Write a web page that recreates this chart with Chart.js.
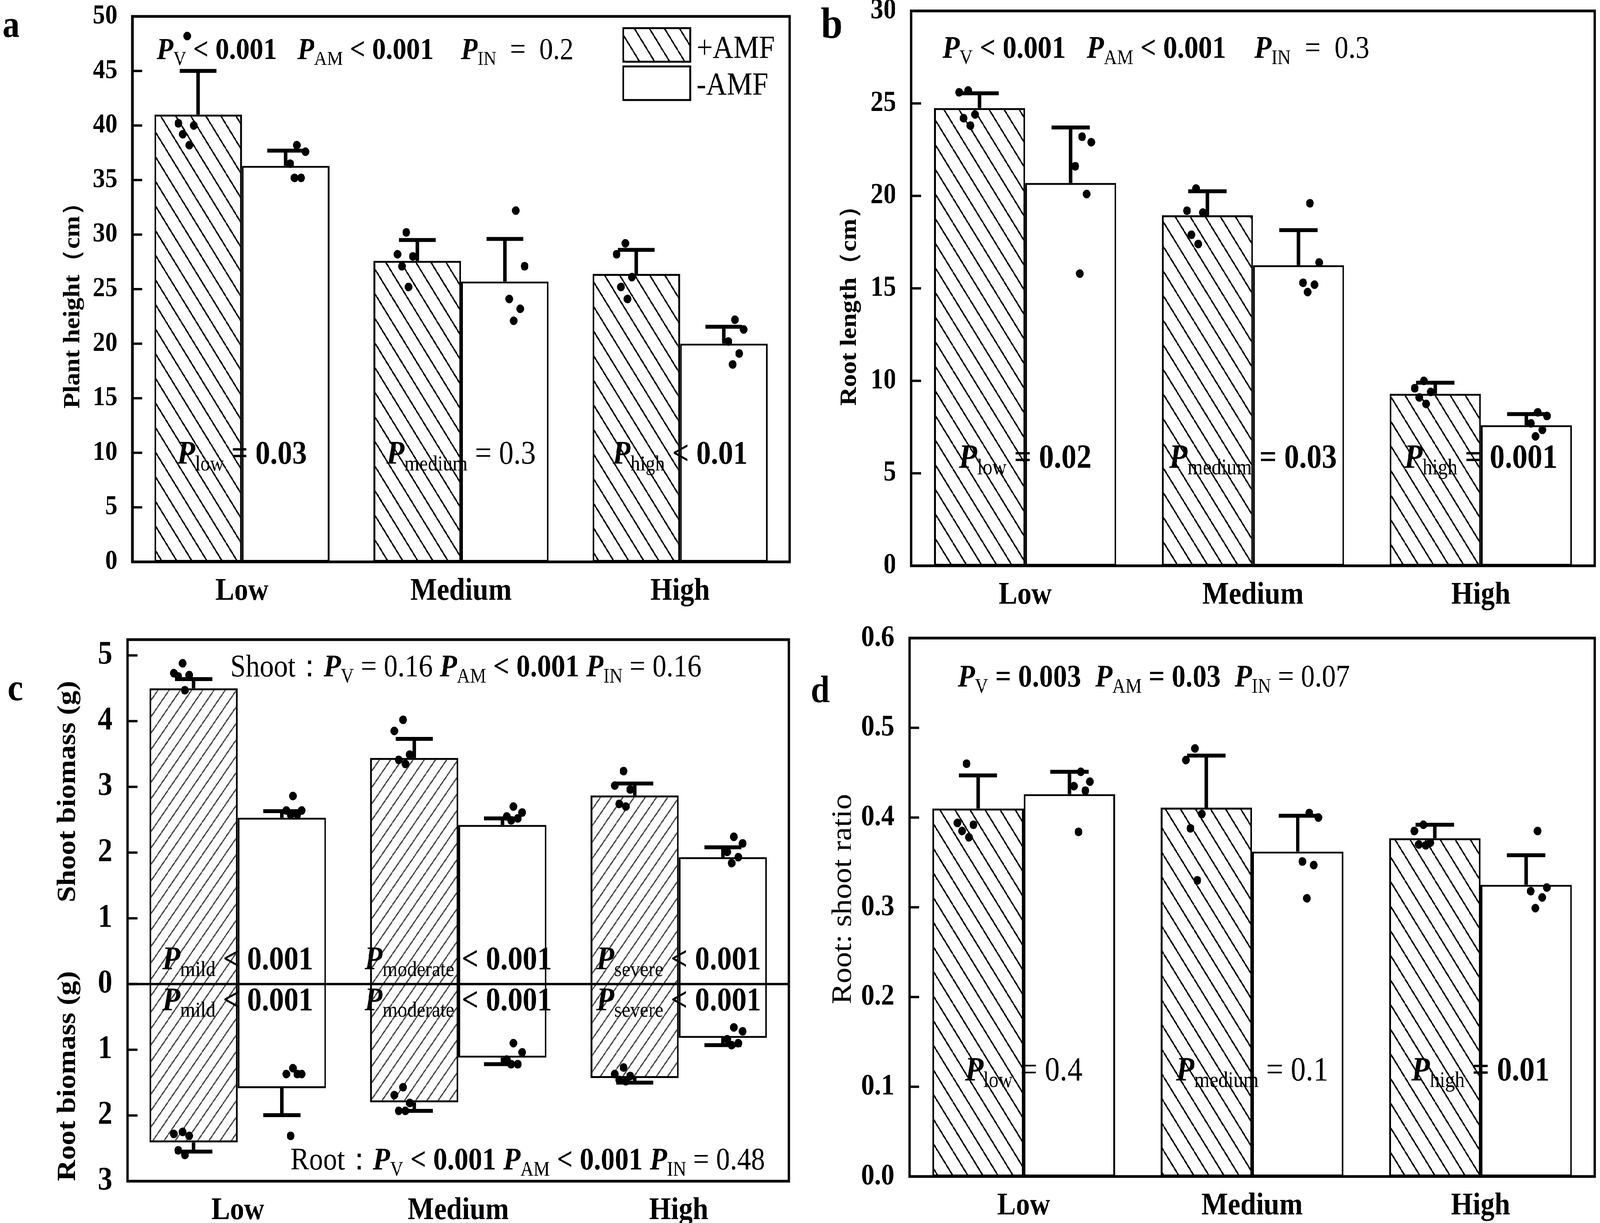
<!DOCTYPE html>
<html>
<head>
<meta charset="utf-8">
<title>AMF panels</title>
<script src="https://cdn.jsdelivr.net/npm/chart.js@4.4.1/dist/chart.umd.min.js"></script>
<style>
  html, body { margin: 0; padding: 0; background: #fff; overflow: hidden; }
  #wrap { position: relative; overflow: hidden; background: #fff; }
  #stage { position: absolute; left: 0; top: 0; width: 4567px; height: 3130px; transform-origin: 0 0; }
  canvas { position: absolute; }
</style>
</head>
<body>
<div id="wrap"><div id="stage">
<canvas id="a"></canvas>
<canvas id="b"></canvas>
<canvas id="c"></canvas>
<canvas id="d"></canvas>
</div></div>
<script>
const categories = ['Low', 'Medium', 'High'];

// (a) plant height, cm
const heightTicks = [0, 5, 10, 15, 20, 25, 30, 35, 40, 45, 50];
const heightAmf = [41.0, 27.6, 26.4];
const heightAmfSd = [4.0, 1.9, 2.2];
const heightNon = [36.3, 25.7, 20.0];
const heightNonSd = [1.4, 3.9, 1.55];
const heightAmfPts = [[48.2, 40.2, 40.0, 39.2, 38.2], [30.2, 28.2, 28.0, 27.1, 25.2], [29.2, 28.2, 26.1, 25.2, 24.1]];
const heightNonPts = [[38.2, 37.6, 36.5, 35.2, 35.2], [32.2, 27.1, 24.1, 23.2, 22.1], [22.2, 21.3, 20.2, 19.1, 18.1]];

// (b) root length, cm
const lengthTicks = [0, 5, 10, 15, 20, 25, 30];
const lengthAmf = [24.75, 18.95, 9.3];
const lengthAmfSd = [0.8, 1.3, 0.6];
const lengthNon = [20.7, 16.25, 7.6];
const lengthNonSd = [3.0, 1.9, 0.6];
const lengthAmfPts = [[25.7, 25.6, 24.4, 24.2, 23.8], [20.4, 19.2, 19.1, 17.9, 17.4], [10.0, 9.6, 9.4, 9.1, 8.75]];
const lengthNonPts = [[23.2, 22.9, 21.6, 20.1, 15.8], [19.6, 16.4, 15.3, 15.2, 14.8], [8.3, 8.1, 7.7, 7.35, 7.0]];

// (c) shoot (up) and root (down) biomass, g
const biomassTicks = [-3, -2, -1, 0, 1, 2, 3, 4, 5];
const shootAmf = [4.50, 3.44, 2.87];
const shootAmfSd = [0.14, 0.29, 0.18];
const shootNon = [2.53, 2.42, 1.93];
const shootNonSd = [0.10, 0.10, 0.15];
const rootAmf = [2.41, 1.80, 1.43];
const rootAmfSd = [0.14, 0.13, 0.07];
const rootNon = [1.585, 1.12, 0.82];
const rootNonSd = [0.41, 0.10, 0.11];
const shootAmfPts = [[4.88, 4.73, 4.70, 4.68, 4.47], [4.02, 3.85, 3.49, 3.41, 3.35], [3.24, 3.02, 2.96, 2.74, 2.70]];
const shootNonPts = [[2.86, 2.64, 2.64, 2.58, 2.58], [2.70, 2.61, 2.55, 2.52, 2.49], [2.24, 2.14, 2.01, 1.93, 1.84]];
const rootAmfPts = [[2.25, 2.28, 2.31, 2.53, 2.60], [1.57, 1.69, 1.81, 1.93, 1.93], [1.27, 1.37, 1.40, 1.46, 1.48]];
const rootNonPts = [[1.28, 1.37, 1.37, 1.37, 2.31], [0.90, 1.04, 1.15, 1.22, 1.22], [0.66, 0.72, 0.84, 0.90, 0.93]];

// (d) root : shoot ratio
const ratioTicks = [0, 0.1, 0.2, 0.3, 0.4, 0.5, 0.6];
const ratioAmf = [0.410, 0.411, 0.377];
const ratioAmfSd = [0.037, 0.058, 0.015];
const ratioNon = [0.426, 0.362, 0.325];
const ratioNonSd = [0.025, 0.040, 0.033];
const ratioAmfPts = [[0.460, 0.394, 0.392, 0.385, 0.378], [0.477, 0.464, 0.404, 0.388, 0.330], [0.392, 0.385, 0.372, 0.370, 0.369]];
const ratioNonPts = [[0.451, 0.440, 0.435, 0.430, 0.384], [0.405, 0.400, 0.351, 0.347, 0.310], [0.385, 0.322, 0.318, 0.311, 0.299]];

const PAGE_W = 4567, PAGE_H = 3130;
const FONT = '"Liberation Serif", "Times New Roman", serif';
const JITTER = [0.05, 0.09, 0.02, 0.07, 0.04];

// stretch the 4567x3130 figure over the whole window
const vw = window.innerWidth || PAGE_W;
const vh = window.innerHeight || PAGE_H;
const wrap = document.getElementById('wrap');
wrap.style.width = vw + 'px';
wrap.style.height = vh + 'px';
document.getElementById('stage').style.transform = `scale(${vw / PAGE_W}, ${vh / PAGE_H})`;

function hatch(w, h, dir, color, lw) {
  const c = document.createElement('canvas');
  c.width = w; c.height = h;
  const g = c.getContext('2d');
  g.strokeStyle = color; g.lineWidth = lw;
  g.beginPath();
  for (let k = -1; k <= 1; k++) {
    if (dir === '\\') { g.moveTo(k * w, 0); g.lineTo(k * w + w, h); }
    else { g.moveTo(k * w, h); g.lineTo(k * w + w, 0); }
  }
  g.stroke();
  return g.createPattern(c, 'repeat');
}
const backHatch = hatch(43, 63, '\\', '#000', 4);
const fwdHatch = hatch(32, 42, '/', '#4a4a4a', 3.5);

const plus = (a, b) => a.map((v, i) => v + b[i]);
const neg = a => a.map(v => -v);

// text with italic P and subscripts: parts are [text, style]
function rich(ctx, parts, x, y, size, align) {
  const f = {
    P: `italic bold ${size}px ${FONT}`,
    s: `${Math.round(size * 0.65)}px ${FONT}`,
    b: `bold ${size}px ${FONT}`,
    r: `${size}px ${FONT}`
  };
  ctx.textAlign = 'left';
  ctx.textBaseline = 'alphabetic';
  let w = 0;
  parts.forEach(([t, st]) => { ctx.font = f[st]; w += ctx.measureText(t).width; });
  let cx = align === 'center' ? x - w / 2 : x;
  parts.forEach(([t, st]) => {
    ctx.font = f[st];
    ctx.fillText(t, cx, st === 's' ? y + size * 0.2 : y);
    cx += ctx.measureText(t).width;
  });
}

const pv = (sub, rest, st) => [['P', 'P'], [sub, 's'], [rest, st]];

const SPECS = {
  a: {
    box: [0, -60, 2294, 1640], frame: [378, 42, 2254, 1438],
    min: 0, max: 50, ticks: heightTicks, tickSize: 70, fmt: v => String(v),
    letter: { text: 'a', weight: 'bold', size: 98, x: 7, y: 94 },
    titles: [{ text: 'Plant height（cm）', weight: 'bold', size: 66, x: 209, y: 766 }],
    errors: [{ ds: 0, from: heightAmf, to: plus(heightAmf, heightAmfSd) },
             { ds: 1, from: heightNon, to: plus(heightNon, heightNonSd) }],
    notes: [
      { dx: 69, at: 46.1, size: 78, parts: [...pv('V', ' < 0.001', 'b'), ['   ', 'r'], ...pv('AM', ' < 0.001', 'b'), ['    ', 'r'], ...pv('IN', '  =  0.2', 'r')] },
      { cat: 0, at: 9.0, size: 84, parts: pv('low', ' = 0.03', 'b') },
      { cat: 1, at: 9.0, size: 84, parts: pv('medium', ' = 0.3', 'r') },
      { cat: 2, at: 9.0, size: 84, parts: pv('high', ' < 0.01', 'b') }
    ],
    legend: true
  },
  b: {
    box: [2290, -60, 2277, 1650], frame: [2601, 28, 4552, 1448],
    min: 0, max: 30, ticks: lengthTicks, tickSize: 73, fmt: v => String(v),
    letter: { text: 'b', weight: 'bold', size: 112, x: 2343, y: 97 },
    titles: [{ text: 'Root length（cm）', weight: 'bold', size: 66, x: 2426, y: 766 }],
    errors: [{ ds: 0, from: lengthAmf, to: plus(lengthAmf, lengthAmfSd) },
             { ds: 1, from: lengthNon, to: plus(lengthNon, lengthNonSd) }],
    notes: [
      { dx: 89, at: 27.47, size: 80, parts: [...pv('V', ' < 0.001', 'b'), ['   ', 'r'], ...pv('AM', ' < 0.001', 'b'), ['    ', 'r'], ...pv('IN', '  =  0.3', 'r')] },
      { cat: 0, at: 5.3, size: 86, parts: pv('low', ' = 0.02', 'b') },
      { cat: 1, at: 5.3, size: 86, parts: pv('medium', ' = 0.03', 'b') },
      { cat: 2, at: 5.3, size: 86, parts: pv('high', ' = 0.001', 'b') }
    ]
  },
  c: {
    box: [0, 1560, 2294, 1570], frame: [364, 1615, 2252, 3023],
    min: -3, max: 5.24, ticks: biomassTicks, tickSize: 84, fmt: v => String(Math.abs(v)),
    letter: { text: 'c', weight: 'bold', size: 98, x: 22, y: 1792 },
    titles: [{ text: 'Shoot biomass (g)', weight: 'bold', size: 75, x: 195, y: 2026 },
             { text: 'Root biomass (g)', weight: 'bold', size: 75, x: 195, y: 2754 }],
    errors: [{ ds: 0, from: shootAmf, to: plus(shootAmf, shootAmfSd) },
             { ds: 0, from: neg(rootAmf), to: neg(plus(rootAmf, rootAmfSd)) },
             { ds: 1, from: shootNon, to: plus(shootNon, shootNonSd) },
             { ds: 1, from: neg(rootNon), to: neg(plus(rootNon, rootNonSd)) }],
    zeroLine: true,
    notes: [
      { dx: 293, at: 4.68, size: 80, parts: [['Shoot：', 'r'], ...pv('V', ' = 0.16 ', 'r'), ...pv('AM', ' < 0.001 ', 'b'), ...pv('IN', ' = 0.16', 'r')] },
      { dx: 465, at: -2.82, size: 80, parts: [['Root：', 'r'], ...pv('V', ' < 0.001 ', 'b'), ...pv('AM', ' < 0.001 ', 'b'), ...pv('IN', ' = 0.48', 'r')] },
      { cat: 0, at: 0.22, size: 84, parts: pv('mild', ' < 0.001', 'b') },
      { cat: 1, at: 0.22, size: 84, parts: pv('moderate', ' < 0.001', 'b') },
      { cat: 2, at: 0.22, size: 84, parts: pv('severe', ' < 0.001', 'b') },
      { cat: 0, at: -0.40, size: 84, parts: pv('mild', ' < 0.001', 'b') },
      { cat: 1, at: -0.40, size: 84, parts: pv('moderate', ' < 0.001', 'b') },
      { cat: 2, at: -0.40, size: 84, parts: pv('severe', ' < 0.001', 'b') }
    ]
  },
  d: {
    box: [2290, 1560, 2277, 1570], frame: [2596, 1619, 4552, 3011],
    min: 0, max: 0.6, ticks: ratioTicks, tickSize: 76, fmt: v => v.toFixed(1),
    letter: { text: 'd', weight: 'bold', size: 98, x: 2314, y: 1797 },
    titles: [{ text: 'Root: shoot ratio', weight: 'normal', size: 80, x: 2408, y: 2301 }],
    errors: [{ ds: 0, from: ratioAmf, to: plus(ratioAmf, ratioAmfSd) },
             { ds: 1, from: ratioNon, to: plus(ratioNon, ratioNonSd) }],
    notes: [
      { dx: 138, at: 0.546, size: 80, parts: [...pv('V', ' = 0.003  ', 'b'), ...pv('AM', ' = 0.03  ', 'b'), ...pv('IN', ' = 0.07', 'r')] },
      { cat: 0, at: 0.107, size: 86, parts: pv('low', ' = 0.4', 'r') },
      { cat: 1, at: 0.107, size: 86, parts: pv('medium', ' = 0.1', 'r') },
      { cat: 2, at: 0.107, size: 86, parts: pv('high', ' = 0.01', 'b') }
    ]
  }
};

const panelDecor = {
  id: 'panelDecor',
  afterDatasetsDraw(chart) {
    const s = SPECS[chart.canvas.id];
    const ctx = chart.ctx, area = chart.chartArea;
    const xs = chart.scales.x, ys = chart.scales.y;
    const ox = s.box[0], oy = s.box[1];
    ctx.save();
    ctx.fillStyle = '#000';
    ctx.strokeStyle = '#000';

    // error bars (one side only, with cap)
    ctx.lineWidth = 10;
    s.errors.forEach(e => {
      chart.getDatasetMeta(e.ds).data.forEach((bar, i) => {
        const y0 = ys.getPixelForValue(e.from[i]);
        const y1 = ys.getPixelForValue(e.to[i]);
        const half = bar.width * 0.21;
        ctx.beginPath();
        ctx.moveTo(bar.x, y0); ctx.lineTo(bar.x, y1);
        ctx.moveTo(bar.x - half, y1); ctx.lineTo(bar.x + half, y1);
        ctx.stroke();
      });
    });

    if (s.zeroLine) {
      const y0 = ys.getPixelForValue(0);
      ctx.lineWidth = 6;
      ctx.beginPath(); ctx.moveTo(area.left, y0); ctx.lineTo(area.right, y0); ctx.stroke();
    }

    // frame and inward ticks
    ctx.lineWidth = 7;
    ctx.strokeRect(area.left, area.top, area.right - area.left, area.bottom - area.top);
    ctx.lineWidth = 6;
    ys.ticks.forEach(t => {
      const py = ys.getPixelForValue(t.value);
      ctx.beginPath(); ctx.moveTo(area.left, py); ctx.lineTo(area.left + 28, py); ctx.stroke();
    });

    // P value notes
    s.notes.forEach(n => {
      const x = n.cat !== undefined ? xs.getPixelForValue(n.cat) : area.left + n.dx;
      rich(ctx, n.parts, x, ys.getPixelForValue(n.at), n.size, n.cat !== undefined ? 'center' : 'left');
    });

    // axis titles
    s.titles.forEach(t => {
      ctx.save();
      ctx.translate(t.x - ox, t.y - oy);
      ctx.rotate(-Math.PI / 2);
      ctx.font = `${t.weight} ${t.size}px ${FONT}`;
      ctx.textAlign = 'center';
      ctx.textBaseline = 'middle';
      ctx.fillText(t.text, 0, 0);
      ctx.restore();
    });

    // panel letter
    const L = s.letter;
    ctx.font = `${L.weight} ${L.size}px ${FONT}`;
    ctx.textAlign = 'left';
    ctx.textBaseline = 'alphabetic';
    ctx.fillText(L.text, L.x - ox, L.y - oy);

    // legend inside panel a
    if (s.legend) {
      const items = [['+AMF', backHatch, 72, 148], ['-AMF', '#fff', 170, 242]];
      items.forEach(([label, fill, top, base]) => {
        ctx.fillStyle = fill;
        ctx.fillRect(1779 - ox, top - oy, 191, 86);
        ctx.lineWidth = 5;
        ctx.strokeRect(1779 - ox, top - oy, 191, 86);
        ctx.fillStyle = '#000';
        ctx.font = `82px ${FONT}`;
        ctx.fillText(label, 1988 - ox, base - oy);
      });
    }
    ctx.restore();
  }
};

function barSet(label, values, fill) {
  return {
    type: 'bar', label, data: values.map((v, i) => ({ x: i, y: v })),
    backgroundColor: fill, borderColor: '#000', borderWidth: 5,
    borderSkipped: false, categoryPercentage: 0.8, barPercentage: 1.0, order: 2
  };
}

function dotSet(points, side, sign) {
  const data = [];
  points.forEach((vals, i) => vals.forEach((v, k) => {
    data.push({ x: i + side * (0.2 + JITTER[k]), y: sign * v });
  }));
  return {
    type: 'scatter', data, backgroundColor: '#000', borderWidth: 0,
    pointRadius: 11, pointHoverRadius: 11, order: 1
  };
}

function makeChart(id, datasets) {
  const s = SPECS[id];
  const [left, top, w, h] = s.box;
  const [L, T, R, B] = s.frame;
  const cv = document.getElementById(id);
  cv.width = w; cv.height = h;
  cv.style.left = left + 'px'; cv.style.top = top + 'px';
  cv.style.width = w + 'px'; cv.style.height = h + 'px';
  return new Chart(cv, {
    type: 'bar',
    data: { datasets },
    options: {
      responsive: false,
      animation: false,
      devicePixelRatio: 1,
      layout: { padding: { left: 0, top: T - top, right: left + w - R, bottom: 0 } },
      plugins: { legend: { display: false }, tooltip: { enabled: false } },
      scales: {
        x: {
          type: 'linear', min: -0.5, max: 2.5, offset: false,
          grid: { display: false }, border: { display: false },
          ticks: {
            color: '#000', padding: 20, font: { family: FONT, size: 80, weight: 'bold' },
            callback: v => categories[v] ?? ''
          },
          afterBuildTicks: sc => { sc.ticks = categories.map((c, i) => ({ value: i })); },
          afterFit: sc => { sc.height = top + h - B; }
        },
        y: {
          type: 'linear', min: s.min, max: s.max,
          grid: { display: false }, border: { display: false },
          ticks: {
            color: '#000', padding: 35,
            font: { family: FONT, size: s.tickSize, weight: 'bold', lineHeight: 1 },
            callback: v => s.fmt(v)
          },
          afterBuildTicks: sc => { sc.ticks = s.ticks.map(v => ({ value: v })); },
          afterFit: sc => { sc.width = L - left; }
        }
      }
    },
    plugins: [panelDecor]
  });
}

makeChart('a', [
  barSet('+AMF', heightAmf, backHatch), barSet('-AMF', heightNon, '#fff'),
  dotSet(heightAmfPts, -1, 1), dotSet(heightNonPts, 1, 1)
]);
makeChart('b', [
  barSet('+AMF', lengthAmf, backHatch), barSet('-AMF', lengthNon, '#fff'),
  dotSet(lengthAmfPts, -1, 1), dotSet(lengthNonPts, 1, 1)
]);
makeChart('c', [
  barSet('+AMF', shootAmf.map((v, i) => [-rootAmf[i], v]), fwdHatch),
  barSet('-AMF', shootNon.map((v, i) => [-rootNon[i], v]), '#fff'),
  dotSet(shootAmfPts, -1, 1), dotSet(shootNonPts, 1, 1),
  dotSet(rootAmfPts, -1, -1), dotSet(rootNonPts, 1, -1)
]);
makeChart('d', [
  barSet('+AMF', ratioAmf, backHatch), barSet('-AMF', ratioNon, '#fff'),
  dotSet(ratioAmfPts, -1, 1), dotSet(ratioNonPts, 1, 1)
]);
</script>
</body>
</html>
